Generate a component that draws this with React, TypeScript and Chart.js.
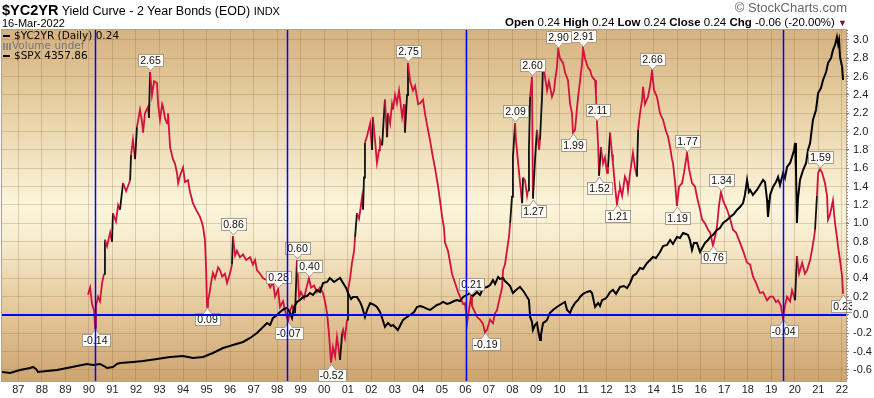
import React, { useEffect, useRef } from 'react';
import { Chart, registerables } from 'chart.js';

Chart.register(...registerables);

// ---- $YC2YR (10y - 2y spread) ----
const ycDates = [
  1989.96, 1990.05, 1990.13, 1990.22, 1990.26, 1990.30, 1990.39, 1990.47, 1990.56, 1990.64,
  1990.68, 1990.77, 1990.90, 1990.98, 1991.02, 1991.15, 1991.24, 1991.32, 1991.45, 1991.58,
  1991.75, 1991.79, 1991.87, 1991.96, 1992.04, 1992.17, 1992.26, 1992.30, 1992.38, 1992.51,
  1992.55, 1992.60, 1992.68, 1992.77, 1992.89, 1992.94, 1993.02, 1993.11, 1993.15, 1993.23,
  1993.32, 1993.36, 1993.45, 1993.57, 1993.66, 1993.74, 1993.79, 1993.87, 1994.00, 1994.08,
  1994.21, 1994.29, 1994.42, 1994.55, 1994.72, 1994.81, 1994.85, 1994.93, 1994.98, 1995.02,
  1995.06, 1995.10, 1995.19, 1995.27, 1995.36, 1995.49, 1995.57, 1995.66, 1995.78, 1995.87,
  1996.00, 1996.08, 1996.12, 1996.21, 1996.29, 1996.42, 1996.55, 1996.68, 1996.85, 1996.97,
  1997.06, 1997.14, 1997.27, 1997.40, 1997.57, 1997.70, 1997.82, 1997.91, 1998.04, 1998.12,
  1998.25, 1998.33, 1998.46, 1998.55, 1998.63, 1998.76, 1998.84, 1998.93, 1999.01, 1999.14,
  1999.23, 1999.35, 1999.44, 1999.57, 1999.69, 1999.82, 1999.95, 2000.03, 2000.12, 2000.20,
  2000.29, 2000.37, 2000.46, 2000.54, 2000.63, 2000.67, 2000.76, 2000.80, 2000.88, 2000.97,
  2001.01, 2001.10, 2001.18, 2001.27, 2001.31, 2001.39, 2001.48, 2001.61, 2001.65, 2001.69,
  2001.73, 2001.82, 2001.95, 2002.03, 2002.07, 2002.16, 2002.24, 2002.33, 2002.37, 2002.46,
  2002.58, 2002.67, 2002.71, 2002.80, 2002.88, 2002.92, 2003.01, 2003.09, 2003.18, 2003.31,
  2003.39, 2003.43, 2003.52, 2003.56, 2003.65, 2003.77, 2003.86, 2003.99, 2004.07, 2004.20,
  2004.28, 2004.41, 2004.50, 2004.62, 2004.71, 2004.84, 2004.92, 2005.01, 2005.09, 2005.13,
  2005.26, 2005.35, 2005.43, 2005.56, 2005.69, 2005.77, 2005.90, 2005.98, 2006.03, 2006.07,
  2006.15, 2006.24, 2006.28, 2006.37, 2006.49, 2006.62, 2006.75, 2006.83, 2006.92, 2007.05,
  2007.17, 2007.26, 2007.34, 2007.47, 2007.56, 2007.60, 2007.68, 2007.77, 2007.85, 2007.90,
  2007.98, 2008.02, 2008.11, 2008.15, 2008.24, 2008.32, 2008.41, 2008.45, 2008.53, 2008.62,
  2008.66, 2008.70, 2008.75, 2008.83, 2008.87, 2008.96, 2009.04, 2009.13, 2009.17, 2009.26,
  2009.30, 2009.38, 2009.47, 2009.55, 2009.68, 2009.77, 2009.81, 2009.89, 2009.94, 2010.02,
  2010.15, 2010.23, 2010.36, 2010.45, 2010.53, 2010.57, 2010.66, 2010.74, 2010.79, 2010.87,
  2010.96, 2011.00, 2011.08, 2011.21, 2011.30, 2011.38, 2011.51, 2011.55, 2011.59, 2011.64,
  2011.68, 2011.76, 2011.85, 2011.93, 2012.02, 2012.06, 2012.15, 2012.23, 2012.27, 2012.36,
  2012.44, 2012.53, 2012.57, 2012.66, 2012.78, 2012.87, 2012.91, 2013.00, 2013.12, 2013.21,
  2013.29, 2013.34, 2013.42, 2013.51, 2013.55, 2013.63, 2013.76, 2013.85, 2013.93, 2014.02,
  2014.14, 2014.27, 2014.40, 2014.53, 2014.61, 2014.70, 2014.78, 2014.82, 2014.91, 2014.99,
  2015.08, 2015.21, 2015.29, 2015.42, 2015.50, 2015.63, 2015.76, 2015.84, 2015.97, 2016.06,
  2016.18, 2016.31, 2016.40, 2016.52, 2016.61, 2016.69, 2016.78, 2016.86, 2016.95, 2017.03,
  2017.12, 2017.25, 2017.37, 2017.50, 2017.67, 2017.80, 2017.97, 2018.10, 2018.22, 2018.35,
  2018.52, 2018.65, 2018.82, 2018.95, 2019.07, 2019.20, 2019.29, 2019.41, 2019.50, 2019.58,
  2019.67, 2019.80, 2019.88, 2019.97, 2020.01, 2020.09, 2020.18, 2020.31, 2020.43, 2020.52,
  2020.65, 2020.73, 2020.82, 2020.86, 2020.94, 2020.99, 2021.07, 2021.16, 2021.28, 2021.37,
  2021.41, 2021.50, 2021.62, 2021.67, 2021.71, 2021.79, 2021.84, 2021.92, 2022.01, 2022.05,
];
const ycValues = [
  0.22, 0.30, 0.12, 0.05, -0.14, 0.10, 0.20, 0.15, 0.35, 0.45,
  0.82, 0.75, 0.90, 0.80, 1.11, 1.02, 1.20, 1.15, 1.44, 1.35,
  1.47, 1.75, 1.91, 1.70, 2.05, 2.24, 2.10, 1.99, 2.20, 2.27,
  2.15, 2.65, 2.40, 2.55, 2.53, 2.30, 2.13, 2.30, 2.27, 2.15,
  2.09, 2.20, 1.83, 1.70, 1.65, 1.55, 1.44, 1.52, 1.61, 1.45,
  1.47, 1.35, 1.22, 1.15, 1.07, 1.00, 0.96, 0.82, 0.50, 0.09,
  0.16, 0.20, 0.35, 0.46, 0.40, 0.52, 0.49, 0.42, 0.45, 0.35,
  0.46, 0.55, 0.86, 0.65, 0.70, 0.63, 0.66, 0.60, 0.63, 0.55,
  0.60, 0.49, 0.45, 0.40, 0.38, 0.30, 0.36, 0.20, 0.28, 0.09,
  0.15, 0.05, -0.07, 0.05, 0.10, 0.02, 0.60, 0.20, 0.25, 0.18,
  0.28, 0.40, 0.30, 0.32, 0.25, 0.30, 0.24, 0.15, 0.02, -0.20,
  -0.52, -0.35, -0.45, -0.24, -0.40, -0.49, -0.20, -0.16, -0.25, -0.05,
  0.27, 0.40, 0.57, 0.70, 0.85, 1.11, 1.05, 1.29, 1.15, 1.50,
  1.88, 1.95, 2.09, 1.80, 2.16, 1.90, 1.66, 1.80, 1.91, 1.85,
  2.35, 1.94, 2.20, 2.09, 2.30, 2.24, 2.40, 2.31, 2.45, 2.16,
  2.30, 1.99, 2.40, 2.75, 2.55, 2.45, 2.50, 2.30, 2.31, 2.35,
  2.20, 2.02, 1.90, 1.72, 1.60, 1.40, 1.25, 1.07, 0.95, 0.79,
  0.70, 0.57, 0.45, 0.35, 0.25, 0.20, 0.12, 0.13, 0.02, -0.09,
  0.05, 0.21, 0.10, 0.05, -0.02, -0.05, -0.10, -0.19, -0.16, -0.05,
  -0.09, 0.02, 0.05, 0.20, 0.30, 0.49, 0.55, 0.71, 0.85, 1.00,
  1.29, 1.72, 2.09, 1.90, 1.66, 1.45, 1.22, 1.50, 1.47, 1.30,
  1.36, 1.80, 2.38, 2.60, 1.27, 1.70, 2.02, 1.80, 1.91, 2.40,
  2.75, 2.60, 2.45, 2.55, 2.38, 2.45, 2.56, 2.70, 2.90, 2.80,
  2.75, 2.65, 2.56, 2.30, 2.20, 1.99, 2.02, 2.25, 2.38, 2.55,
  2.75, 2.91, 2.80, 2.70, 2.67, 2.60, 2.56, 2.40, 2.11, 1.85,
  1.52, 1.83, 1.65, 1.72, 1.55, 1.61, 1.99, 1.75, 1.66, 1.40,
  1.21, 1.35, 1.40, 1.30, 1.51, 1.45, 1.36, 1.55, 1.77, 1.60,
  1.51, 2.02, 2.20, 2.35, 2.49, 2.30, 2.38, 2.50, 2.66, 2.45,
  2.38, 2.20, 2.13, 2.00, 1.95, 1.83, 1.70, 1.66, 1.45, 1.19,
  1.40, 1.44, 1.55, 1.77, 1.60, 1.44, 1.40, 1.29, 1.15, 1.04,
  1.00, 0.93, 0.90, 0.76, 0.85, 0.96, 1.20, 1.34, 1.25, 1.20,
  1.15, 1.05, 0.93, 0.90, 0.79, 0.70, 0.57, 0.55, 0.42, 0.35,
  0.24, 0.25, 0.16, 0.20, 0.20, 0.14, 0.16, 0.10, -0.04, 0.10,
  0.20, 0.15, 0.27, 0.20, 0.16, 0.64, 0.45, 0.57, 0.45, 0.49,
  0.60, 0.71, 0.85, 0.93, 1.30, 1.55, 1.59, 1.55, 1.44, 1.30,
  1.04, 1.10, 1.25, 1.10, 1.00, 0.85, 0.74, 0.60, 0.42, 0.23,
];

// ---- $SPX ----
const spxDates = [
  1986.31, 1986.65, 1987.07, 1987.50, 1987.62, 1987.75, 1987.84, 1988.22, 1988.64, 1989.07,
  1989.49, 1989.92, 1990.17, 1990.47, 1990.64, 1990.77, 1991.02, 1991.19, 1991.32, 1991.87,
  1992.30, 1992.89, 1993.45, 1994.00, 1994.42, 1994.85, 1995.27, 1995.70, 1996.12, 1996.55,
  1996.85, 1997.14, 1997.40, 1997.57, 1997.70, 1997.82, 1997.95, 1998.12, 1998.29, 1998.42,
  1998.55, 1998.63, 1998.72, 1998.84, 1998.97, 1999.10, 1999.27, 1999.39, 1999.52, 1999.69,
  1999.82, 1999.95, 2000.12, 2000.24, 2000.42, 2000.54, 2000.67, 2000.80, 2000.93, 2001.01,
  2001.14, 2001.22, 2001.39, 2001.52, 2001.61, 2001.73, 2001.82, 2001.95, 2002.12, 2002.24,
  2002.37, 2002.46, 2002.58, 2002.71, 2002.84, 2002.92, 2003.05, 2003.13, 2003.26, 2003.35,
  2003.52, 2003.65, 2003.82, 2003.94, 2004.07, 2004.20, 2004.37, 2004.50, 2004.67, 2004.79,
  2004.92, 2005.05, 2005.22, 2005.35, 2005.52, 2005.64, 2005.77, 2005.90, 2006.07, 2006.20,
  2006.32, 2006.49, 2006.62, 2006.75, 2006.92, 2007.05, 2007.17, 2007.26, 2007.39, 2007.47,
  2007.60, 2007.68, 2007.77, 2007.90, 2008.02, 2008.15, 2008.32, 2008.49, 2008.62, 2008.70,
  2008.75, 2008.83, 2008.87, 2008.96, 2009.04, 2009.09, 2009.17, 2009.21, 2009.30, 2009.38,
  2009.47, 2009.59, 2009.72, 2009.89, 2010.02, 2010.15, 2010.23, 2010.32, 2010.45, 2010.53,
  2010.66, 2010.79, 2010.87, 2011.00, 2011.17, 2011.30, 2011.38, 2011.51, 2011.64, 2011.72,
  2011.81, 2011.93, 2012.02, 2012.15, 2012.27, 2012.40, 2012.57, 2012.74, 2012.87, 2013.00,
  2013.12, 2013.25, 2013.42, 2013.55, 2013.72, 2013.85, 2013.97, 2014.10, 2014.27, 2014.40,
  2014.57, 2014.70, 2014.82, 2014.99, 2015.12, 2015.25, 2015.37, 2015.46, 2015.54, 2015.63,
  2015.71, 2015.84, 2015.97, 2016.06, 2016.18, 2016.31, 2016.40, 2016.52, 2016.69, 2016.82,
  2016.95, 2017.12, 2017.25, 2017.41, 2017.54, 2017.67, 2017.80, 2017.88, 2017.97, 2018.05,
  2018.10, 2018.22, 2018.39, 2018.52, 2018.65, 2018.73, 2018.82, 2018.86, 2018.95, 2019.07,
  2019.20, 2019.29, 2019.37, 2019.50, 2019.58, 2019.67, 2019.80, 2019.88, 2019.97, 2020.01,
  2020.05, 2020.09, 2020.13, 2020.22, 2020.35, 2020.48, 2020.56, 2020.65, 2020.77, 2020.90,
  2020.99, 2021.11, 2021.20, 2021.33, 2021.41, 2021.54, 2021.62, 2021.71, 2021.79, 2021.84,
  2021.88, 2021.92, 2022.01, 2022.05,
];
const spxValues = [
  235, 221, 262, 289, 303, 276, 235, 248, 262, 289,
  316, 344, 330, 344, 316, 289, 303, 344, 357, 371,
  384, 412, 439, 452, 425, 439, 493, 561, 602, 643,
  697, 765, 847, 901, 874, 969, 996, 1051, 1092, 1105,
  1037, 969, 1119, 1187, 1214, 1255, 1268, 1309, 1282, 1350,
  1323, 1445, 1459, 1513, 1459, 1486, 1513, 1445, 1377, 1309,
  1228, 1255, 1255, 1187, 1119, 983, 1078, 1173, 1146, 1119,
  1051, 969, 847, 901, 860, 874, 833, 806, 888, 942,
  983, 1010, 1051, 1119, 1132, 1119, 1092, 1078, 1119, 1146,
  1160, 1187, 1160, 1173, 1200, 1214, 1200, 1255, 1282, 1309,
  1268, 1323, 1282, 1377, 1391, 1418, 1486, 1432, 1527, 1500,
  1513, 1472, 1445, 1404, 1309, 1350, 1391, 1323, 1255, 1214,
  983, 915, 806, 874, 901, 806, 670, 738, 901, 915,
  942, 1037, 1078, 1119, 1146, 1173, 1187, 1078, 1037, 1105,
  1173, 1214, 1255, 1296, 1323, 1336, 1309, 1119, 1173, 1132,
  1214, 1228, 1255, 1323, 1350, 1296, 1391, 1404, 1377, 1445,
  1540, 1568, 1649, 1635, 1717, 1758, 1799, 1785, 1867, 1948,
  1962, 2030, 1976, 2071, 2057, 2125, 2112, 2098, 2030, 1894,
  1989, 1989, 1867, 1921, 1989, 2030, 2071, 2098, 2166, 2193,
  2261, 2302, 2343, 2384, 2438, 2479, 2533, 2642, 2846, 2683,
  2710, 2642, 2710, 2778, 2846, 2819, 2574, 2343, 2642, 2751,
  2819, 2887, 2778, 2941, 2873, 3023, 3078, 3159, 3254, 3349,
  2982, 2261, 2574, 2846, 2982, 3078, 3254, 3349, 3662, 3798,
  4029, 4097, 4206, 4315, 4437, 4505, 4614, 4682, 4791, 4696,
  4750, 4519, 4383, 4206,
];

// ---- axes ----
const yearTicks = [
  1987, 1988, 1989, 1990, 1991, 1992, 1993, 1994, 1995, 1996, 1997, 1998,
  1999, 2000, 2001, 2002, 2003, 2004, 2005, 2006, 2007, 2008, 2009, 2010,
  2011, 2012, 2013, 2014, 2015, 2016, 2017, 2018, 2019, 2020, 2021, 2022,
];
const yTicks = [-0.6, -0.4, -0.2, 0.0, 0.2, 0.4, 0.6, 0.8, 1.0, 1.2, 1.4, 1.6, 1.8, 2.0, 2.2, 2.4, 2.6, 2.8, 3.0];

// ---- annotations ----
const markerDates = [1990.26, 1998.42, 2006.03, 2019.5];
const peakDates = [
  1990.26, 1992.60, 1995.02, 1996.12, 1998.04, 1998.46, 1998.84, 1999.35, 2000.29, 2003.56,
  2006.24, 2006.83, 2008.11, 2008.83, 2008.87, 2009.94, 2010.57, 2011.00, 2011.59, 2011.68,
  2012.44, 2013.93, 2014.99, 2015.42, 2016.52, 2016.86, 2019.50, 2021.07, 2022.05,
];
const peakValues = [
  -0.14, 2.65, 0.09, 0.86, 0.28, -0.07, 0.60, 0.40, -0.52, 2.75,
  0.21, -0.19, 2.09, 2.60, 1.27, 2.90, 1.99, 2.91, 2.11, 1.52,
  1.21, 2.66, 1.19, 1.77, 0.76, 1.34, -0.04, 1.59, 0.23,
];
const peakAbove = [
  false, true, false, true, true, false, true, true, false, true,
  true, false, true, true, false, true, false, true, true, false,
  false, true, false, true, false, true, false, true, false,
];

const FONT = '"Liberation Sans", Arial, sans-serif';
const RED = '#d2123c';

export default function App() {
  const canvasRef = useRef<HTMLCanvasElement | null>(null);

  useEffect(() => {
    document.body.style.margin = '0';
    const canvas = canvasRef.current;
    if (!canvas) return;

    const bgPlugin = {
      id: 'bgGradient',
      beforeDraw(chart: any) {
        const { ctx, chartArea: a } = chart;
        const g = ctx.createLinearGradient(0, a.top, 0, a.bottom);
        g.addColorStop(0, '#d6b27f');
        g.addColorStop(0.25, '#e9d4a9');
        g.addColorStop(0.5, '#fbf5db');
        g.addColorStop(0.58, '#f8eed0');
        g.addColorStop(0.8, '#e3c799');
        g.addColorStop(1, '#cea470');
        ctx.save();
        ctx.fillStyle = g;
        ctx.fillRect(a.left, a.top, a.right - a.left, a.bottom - a.top);
        ctx.restore();
      },
    };

    const overlayPlugin = {
      id: 'overlay',
      afterDatasetsDraw(chart: any) {
        const { ctx, chartArea: a, scales } = chart;
        const xs = scales.x;
        const ys = scales.y;
        ctx.save();
        ctx.beginPath();
        ctx.rect(a.left, a.top, a.right - a.left + 6, a.bottom - a.top);
        ctx.clip();

        // value labels
        ctx.font = '10.5px ' + FONT;
        ctx.textAlign = 'center';
        ctx.textBaseline = 'middle';
        peakDates.forEach((d, i) => {
          const v = peakValues[i];
          const px = Math.round(xs.getPixelForValue(d)) + 0.5;
          const py = Math.round(ys.getPixelForValue(v));
          const text = v.toFixed(2);
          const w = Math.ceil(ctx.measureText(text).width) + 4;
          const h = 12;
          const above = peakAbove[i];
          const tip = above ? py - 1 : py + 1;
          const triH = 5;
          const boxY = above ? tip - triH - h : tip + triH;
          const bx = Math.round(px - w / 2) + 0.5;
          ctx.fillStyle = '#fdfbf6';
          ctx.strokeStyle = '#a89a8c';
          ctx.lineWidth = 1;
          ctx.fillRect(bx, boxY + 0.5, w, h);
          ctx.strokeRect(bx, boxY + 0.5, w, h);
          const tri = () => {
            ctx.beginPath();
            if (above) {
              ctx.moveTo(px - 4, boxY + h + 0.5);
              ctx.lineTo(px, tip);
              ctx.lineTo(px + 4, boxY + h + 0.5);
            } else {
              ctx.moveTo(px - 4, boxY + 0.5);
              ctx.lineTo(px, tip);
              ctx.lineTo(px + 4, boxY + 0.5);
            }
          };
          tri();
          ctx.closePath();
          ctx.fill();
          tri();
          ctx.stroke();
          ctx.fillStyle = '#fdfbf6';
          ctx.fillRect(px - 3, above ? boxY + h - 0.5 : boxY, 6, 2);
          ctx.fillStyle = '#111';
          ctx.fillText(text, px, boxY + h / 2 + 1);
        });
        ctx.restore();

        ctx.save();
        ctx.beginPath();
        ctx.rect(a.left, a.top, a.right - a.left, a.bottom - a.top);
        ctx.clip();
        // vertical markers
        ctx.strokeStyle = '#0000ff';
        ctx.lineWidth = 1.5;
        markerDates.forEach((d) => {
          const px = Math.round(xs.getPixelForValue(d)) + 0.5;
          ctx.beginPath();
          ctx.moveTo(px, a.top);
          ctx.lineTo(px, a.bottom);
          ctx.stroke();
        });

        // zero line
        const zy = ys.getPixelForValue(0);
        ctx.strokeStyle = '#0000ff';
        ctx.lineWidth = 2;
        ctx.beginPath();
        ctx.moveTo(a.left, zy);
        ctx.lineTo(a.right, zy);
        ctx.stroke();
        ctx.restore();

        // frame + dotted right axis line
        ctx.save();
        ctx.strokeStyle = 'rgba(150,120,90,0.7)';
        ctx.lineWidth = 1;
        ctx.strokeRect(a.left - 0.5, a.top - 0.5, a.right - a.left + 1, a.bottom - a.top + 1);
        ctx.strokeStyle = '#a27c94';
        ctx.setLineDash([1, 2]);
        ctx.beginPath();
        ctx.moveTo(a.right + 1.5, a.top);
        ctx.lineTo(a.right + 1.5, a.bottom);
        ctx.stroke();
        ctx.restore();
      },
    };

    const ycData = ycDates.map((d, i) => ({ x: d, y: ycValues[i] }));
    const spxData = spxDates.map((d, i) => ({ x: d, y: spxValues[i] }));

    const chart = new Chart(canvas, {
      type: 'line',
      data: {
        datasets: [
          {
            label: '$SPX',
            data: spxData,
            yAxisID: 'y2',
            borderColor: '#000',
            borderWidth: 2,
            pointRadius: 0,
            tension: 0,
            order: 0,
          },
          {
            label: '$YC2YR',
            data: ycData,
            yAxisID: 'y',
            borderColor: RED,
            borderWidth: 1.8,
            pointRadius: 0,
            tension: 0,
            order: 1,
            segment: {
              borderColor: (c: any) => (c.p1.parsed.y - c.p0.parsed.y > 0.25 ? '#111' : RED),
            },
          },
        ],
      },
      options: {
        responsive: false,
        maintainAspectRatio: false,
        animation: false,
        devicePixelRatio: 1,
        layout: { padding: { left: 2, top: 30, right: 0, bottom: 0 } },
        plugins: {
          legend: { display: false },
          tooltip: { enabled: false },
          title: { display: false },
        },
        scales: {
          x: {
            type: 'linear',
            min: 1986.305,
            max: 2022.175,
            afterBuildTicks: (s: any) => {
              s.ticks = yearTicks.map((v) => ({ value: v }));
            },
            afterFit: (s: any) => {
              s.height = 17;
            },
            ticks: {
              autoSkip: false,
              maxRotation: 0,
              padding: 2,
              color: '#222',
              font: { family: FONT, size: 11 },
              callback: (v: any) => String(Math.round(Number(v)) % 100).padStart(2, '0'),
            },
            grid: { color: 'rgba(140,100,60,0.26)', tickLength: 0, drawTicks: false },
            border: { display: false },
          },
          y: {
            type: 'linear',
            position: 'right',
            min: -0.72,
            max: 3.109,
            afterBuildTicks: (s: any) => {
              s.ticks = yTicks.map((v) => ({ value: v }));
            },
            afterFit: (s: any) => {
              s.width = 28;
            },
            ticks: {
              padding: 4,
              color: '#222',
              font: { family: FONT, size: 11 },
              callback: (v: any) => Number(v).toFixed(1),
            },
            grid: { color: 'rgba(140,100,60,0.26)', tickLength: 3, tickColor: '#a27c94' },
            border: { display: false },
          },
          y2: {
            type: 'linear',
            display: false,
            min: 112,
            max: 4886,
          },
        },
      },
      plugins: [bgPlugin, overlayPlugin],
    });

    return () => {
      chart.destroy();
    };
  }, []);

  const legendLine = { height: 10, lineHeight: '10px', whiteSpace: 'nowrap' as const };

  return (
    <div style={{ position: 'relative', width: 874, height: 398, background: '#fff', fontFamily: FONT, overflow: 'hidden' }}>
      <canvas ref={canvasRef} width={874} height={398} style={{ position: 'absolute', left: 0, top: 0, width: 874, height: 398 }} />
      <div style={{ position: 'absolute', left: 2, top: 1, whiteSpace: 'nowrap', color: '#000' }}>
        <span style={{ fontWeight: 'bold', fontSize: 14.5 }}>$YC2YR</span>
        <span style={{ fontSize: 12.5 }}> Yield Curve - 2 Year Bonds (EOD) </span>
        <span style={{ fontSize: 11 }}>INDX</span>
      </div>
      <div style={{ position: 'absolute', left: 2, top: 17, fontSize: 11, color: '#000' }}>16-Mar-2022</div>
      <div style={{ position: 'absolute', right: 27, top: 0, fontSize: 13, color: '#666', whiteSpace: 'nowrap' }}>
        © StockCharts.com
      </div>
      <div style={{ position: 'absolute', right: 27, top: 16, fontSize: 11.5, color: '#000', whiteSpace: 'nowrap' }}>
        <b>Open</b> 0.24 <b>High</b> 0.24 <b>Low</b> 0.24 <b>Close</b> 0.24 <b>Chg</b> -0.06 (-20.00%){' '}
        <span style={{ color: '#8b0a2a', fontSize: 9 }}>▼</span>
      </div>
      <div style={{ position: 'absolute', left: 3, top: 30, fontFamily: '"DejaVu Sans", Verdana, sans-serif', fontSize: 10.5 }}>
        <div style={{ ...legendLine, color: '#000' }}>
          <span style={{ display: 'inline-block', width: 7, height: 2, background: '#000', verticalAlign: 'middle', marginRight: 4 }} />
          $YC2YR (Daily) 0.24
        </div>
        <div style={{ ...legendLine, color: '#777' }}>
          <span style={{ display: 'inline-block', width: 8, height: 7, verticalAlign: 'middle', marginRight: 1, background: 'repeating-linear-gradient(90deg,#888 0 2px,transparent 2px 3px)' }} />
          Volume undef
        </div>
        <div style={{ ...legendLine, color: '#000' }}>
          <span style={{ display: 'inline-block', width: 7, height: 2, background: '#000', verticalAlign: 'middle', marginRight: 4 }} />
          $SPX 4357.86
        </div>
      </div>
    </div>
  );
}
